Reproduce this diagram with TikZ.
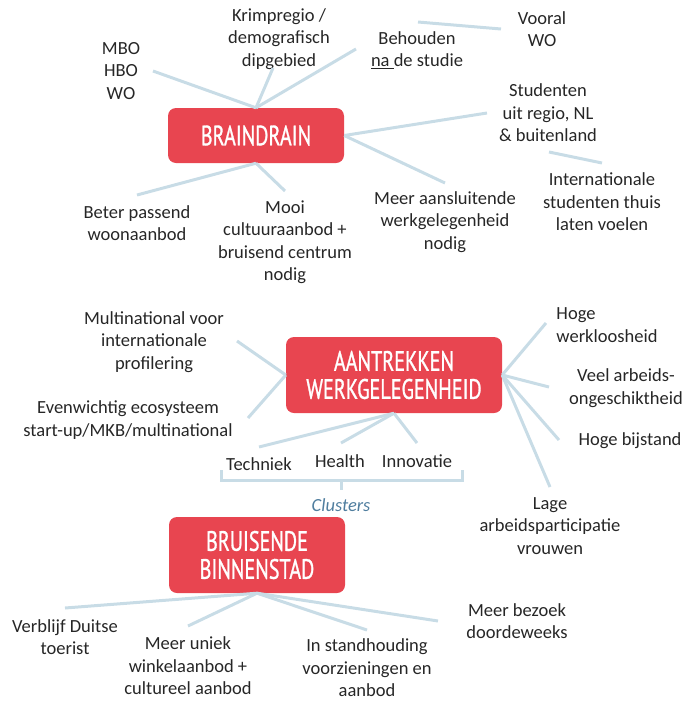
\documentclass[tikz,border=0pt]{standalone}
\usepackage{fontspec}
\setmainfont{Carlito}
\newfontfamily\titlefont[FakeStretch=0.72,FakeBold=1]{PT Sans}
\usepackage{tikz}
\usetikzlibrary{positioning}

\definecolor{boxred}{RGB}{232,69,80}
\definecolor{linkblue}{RGB}{200,220,230}
\definecolor{clusterblue}{RGB}{79,125,158}

\begin{document}
\begin{tikzpicture}[x=1pt,y=-1pt,
	main box/.style={fill=boxred,rounded corners=8pt,text=white,align=center,
		inner sep=0pt,font=\titlefont\fontsize{28}{28}\selectfont},
	note/.style={align=center,inner sep=0pt,text=black!85,
		font=\fontsize{18.5}{22.5}\selectfont},
	link/.style={draw=linkblue,line width=3pt}]
	
	\useasboundingbox (0,0) rectangle (693,702);
	
	\node[main box,minimum width=176pt,minimum height=55pt] (braindrain) at (256,135.5) {BRAINDRAIN};
	\node[main box,minimum width=216pt,minimum height=76pt] (aantrekken) at (394,375) {AANTREKKEN\\WERKGELEGENHEID};
	\node[main box,minimum width=176pt,minimum height=76pt] (bruisende) at (257,555) {BRUISENDE\\BINNENSTAD};
	
	\node[note] (mbo) at (121,71) {MBO\\HBO\\WO};
	\node[note] (krimp) at (279,39) {Krimpregio /\\demografisch\\dipgebied};
	\node[note] (behouden) at (417,50) {Behouden\\\underline{na\ }de studie};
	\node[note] (vooral) at (542,29) {Vooral\\WO};
	\node[note] (studenten) at (548,113) {Studenten\\uit regio, NL\\\& buitenland};
	\node[note] (internationaal) at (602,202) {Internationale\\studenten thuis\\laten voelen};
	\node[note] (aansluitend) at (445,222) {Meer aansluitende\\werkgelegenheid\\nodig};
	\node[note] (woon) at (137,223) {Beter passend\\woonaanbod};
	\node[note] (cultuur) at (285,242) {Mooi\\cultuuraanbod +\\bruisend centrum\\nodig};
	
	\node[note] (multinational) at (154,342) {Multinational voor\\internationale\\profilering};
	\node[note] (ecosysteem) at (128,420) {Evenwichtig ecosysteem\\start-up/MKB/multinational};
	\node[note] (techniek) at (259,464) {Techniek};
	\node[note] (health) at (340,461) {Health};
	\node[note] (innovatie) at (417,461) {Innovatie};
	\node[note,text=clusterblue,font=\fontsize{18.5}{22.5}\selectfont\itshape] (clusters) at (341,505) {Clusters};
	\node[note,align=left] (werkloos) at (607,325) {Hoge\\werkloosheid};
	\node[note] (ongeschikt) at (626,388) {Veel arbeids-\\ongeschiktheid};
	\node[note] (bijstand) at (630,441) {Hoge bijstand};
	\node[note] (participatie) at (550,526) {Lage\\arbeidsparticipatie\\vrouwen};
	
	\node[note] (duitse) at (65,637) {Verblijf Duitse\\toerist};
	\node[note] (winkel) at (188,666) {Meer uniek\\winkelaanbod +\\cultureel aanbod};
	\node[note] (voorzieningen) at (367,668) {In standhouding\\voorzieningen en\\aanbod};
	\node[note] (bezoek) at (517,621) {Meer bezoek\\doordeweeks};
	
	\coordinate (mbo-end) at (153,71);
	\coordinate (krimp-end) at (273,68);
	\coordinate (behouden-end) at (356,49);
	\coordinate (studenten-end) at (487,113);
	\coordinate (aansluitend-end) at (445,183);
	\coordinate (woon-end) at (137,195);
	\coordinate (cultuur-end) at (285,191);
	\coordinate (behouden-tie) at (418,22);
	\coordinate (vooral-tie) at (501,29);
	\coordinate (studenten-tie) at (549,152);
	\coordinate (internationaal-tie) at (602,163);
	
	\coordinate (multinational-end) at (237,341);
	\coordinate (ecosysteem-end) at (248,418);
	\coordinate (techniek-end) at (259,447);
	\coordinate (health-end) at (341,443);
	\coordinate (innovatie-end) at (417,443);
	\coordinate (werkloos-end) at (546,323);
	\coordinate (ongeschikt-end) at (549,387);
	\coordinate (bijstand-end) at (559,440);
	\coordinate (participatie-end) at (550,487);
	\coordinate (brace-left) at (221,470);
	\coordinate (brace-right) at (462,470);
	\coordinate (brace-mid) at (341,480);
	\coordinate (brace-tip) at (341,490);
	
	\coordinate (duitse-end) at (65,608);
	\coordinate (winkel-end) at (188,626);
	\coordinate (voorzieningen-end) at (367,630);
	\coordinate (bezoek-end) at (438,621);
	
	\path[link]
	(braindrain.north) edge (mbo-end)
	(braindrain.north) edge (krimp-end)
	(braindrain.north) edge (behouden-end)
	(braindrain.east) edge (studenten-end)
	(braindrain.east) edge (aansluitend-end)
	(braindrain.south) edge (woon-end)
	(braindrain.south) edge (cultuur-end)
	(behouden-tie) edge (vooral-tie)
	(studenten-tie) edge (internationaal-tie);
	
	\path[link]
	(aantrekken.west) edge (multinational-end)
	(aantrekken.west) edge (ecosysteem-end)
	(aantrekken.south) edge (techniek-end)
	(aantrekken.south) edge (health-end)
	(aantrekken.south) edge (innovatie-end)
	(aantrekken.east) edge (werkloos-end)
	(aantrekken.east) edge (ongeschikt-end)
	(aantrekken.east) edge (bijstand-end)
	(aantrekken.east) edge (participatie-end);
	\draw[link] (brace-left) |- (brace-mid) -| (brace-right);
	\draw[link] (brace-mid) -- (brace-tip);
	
	\path[link]
	(bruisende.south) edge (duitse-end)
	(bruisende.south) edge (winkel-end)
	(bruisende.south) edge (voorzieningen-end)
	(bruisende.south) edge (bezoek-end);
\end{tikzpicture}
\end{document}
